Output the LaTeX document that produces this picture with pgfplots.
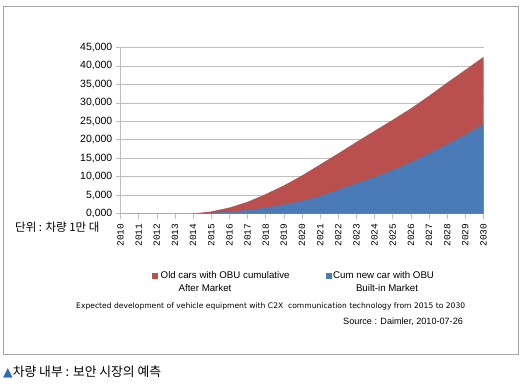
\documentclass[border=0pt]{standalone}
\usepackage{pgfplots}
\pgfplotsset{compat=1.18}
\usepackage{fontspec}
\setmainfont{Liberation Sans}
\newfontfamily\cjk{Noto Sans CJK KR}
\newfontfamily\monof{Liberation Mono}
\newfontfamily\dejavu{DejaVu Sans}
\definecolor{xred}{HTML}{B9504E}
\definecolor{xblue}{HTML}{4A7BB7}
\definecolor{gridc}{HTML}{BFBFBF}
\definecolor{framec}{HTML}{A6A6A6}
\definecolor{tri}{HTML}{2E6DB4}
\begin{document}
\begin{tikzpicture}
\useasboundingbox (0pt,0pt) rectangle (526pt,386pt);
\fill[white] (0pt,0pt) rectangle (526pt,386pt);
\draw[framec, line width=0.8pt] (3pt,32pt) rectangle (518pt,380pt);
\begin{axis}[
  at={(120.5pt,172.5pt)}, anchor=south west,
  scale only axis, width=363pt, height=166pt,
  xmin=2010, xmax=2030, ymin=0, ymax=45000,
  axis lines*=left,
  axis line style={gridc, line width=0.6pt},
  ymajorgrids, grid style={gridc, line width=0.6pt},
  scaled y ticks=false,
  xtick={2010,2011,2012,2013,2014,2015,2016,2017,2018,2019,2020,2021,2022,2023,2024,2025,2026,2027,2028,2029,2030},
  xticklabels={2010,2011,2012,2013,2014,2015,2016,2017,2018,2019,2020,2021,2022,2023,2024,2025,2026,2027,2028,2029,2030},
  ytick={0,5000,10000,15000,20000,25000,30000,35000,40000,45000},
  yticklabels={{0,000},{5,000},{10,000},{15,000},{20,000},{25,000},{30,000},{35,000},{40,000},{45,000}},
  tick align=outside, major tick length=5pt,
  tick style={gridc, line width=0.6pt},
  xticklabel style={rotate=90, anchor=east, font=\monof\fontsize{9.5}{10}\selectfont, inner xsep=5pt},
  yticklabel style={font=\fontsize{10.5}{11}\selectfont, inner xsep=3pt},
]
% total (old cars + new cars)
\addplot[draw=none, fill=xred] coordinates {
(2010,0) (2011,0) (2012,0) (2013,0) (2014,0) (2015,550) (2016,1600) (2017,3150) (2018,5250) (2019,7600) (2020,10300) (2021,13300) (2022,16300) (2023,19400) (2024,22400) (2025,25400) (2026,28500) (2027,31900) (2028,35500) (2029,38950) (2030,42450)
} \closedcycle;
% cum new car with OBU
\addplot[draw=none, fill=xblue] coordinates {
(2010,0) (2011,0) (2012,0) (2013,0) (2014,0) (2015,200) (2016,500) (2017,950) (2018,1600) (2019,2450) (2020,3450) (2021,4700) (2022,6500) (2023,8200) (2024,9900) (2025,11800) (2026,13900) (2027,16300) (2028,18800) (2029,21400) (2030,24300)
} \closedcycle;
\end{axis}
\begin{scope}[x=1pt,y=1pt]
\node[anchor=west, inner sep=0pt, font=\cjk\fontsize{11.5}{12}\selectfont] at (15,159) {단위 : 차량 1만 대};
\fill[xred] (151.5,107.5) rectangle (157.5,113.5);
\node[anchor=west, inner sep=0pt, font=\fontsize{9.7}{10}\selectfont] at (160.5,110.5) {Old cars with OBU cumulative};
\node[inner sep=0pt, font=\fontsize{9.7}{10}\selectfont] at (205,97.5) {After Market};
\fill[xblue] (325.5,107.5) rectangle (331.5,113.5);
\node[anchor=west, inner sep=0pt, font=\fontsize{9.7}{10}\selectfont] at (333,110.5) {Cum new car with OBU};
\node[inner sep=0pt, font=\fontsize{9.7}{10}\selectfont] at (387,97.5) {Built-in Market};
\node[anchor=west, inner sep=0pt, font=\dejavu\fontsize{7.6}{8}\selectfont] at (76,80) {Expected development of vehicle equipment with C2X\ \ communication technology from 2015 to 2030};
\node[anchor=west, inner sep=0pt, font=\fontsize{9.1}{10}\selectfont] at (343,64) {Source : Daimler, 2010-07-26};
\node[anchor=west, inner sep=0pt, font=\cjk\fontsize{12.8}{13}\selectfont] at (3,14) {{\dejavu\color{tri}\fontsize{12.5}{13}\selectfont ▲}차량 내부 : 보안 시장의 예측};
\end{scope}
\end{tikzpicture}
\end{document}
